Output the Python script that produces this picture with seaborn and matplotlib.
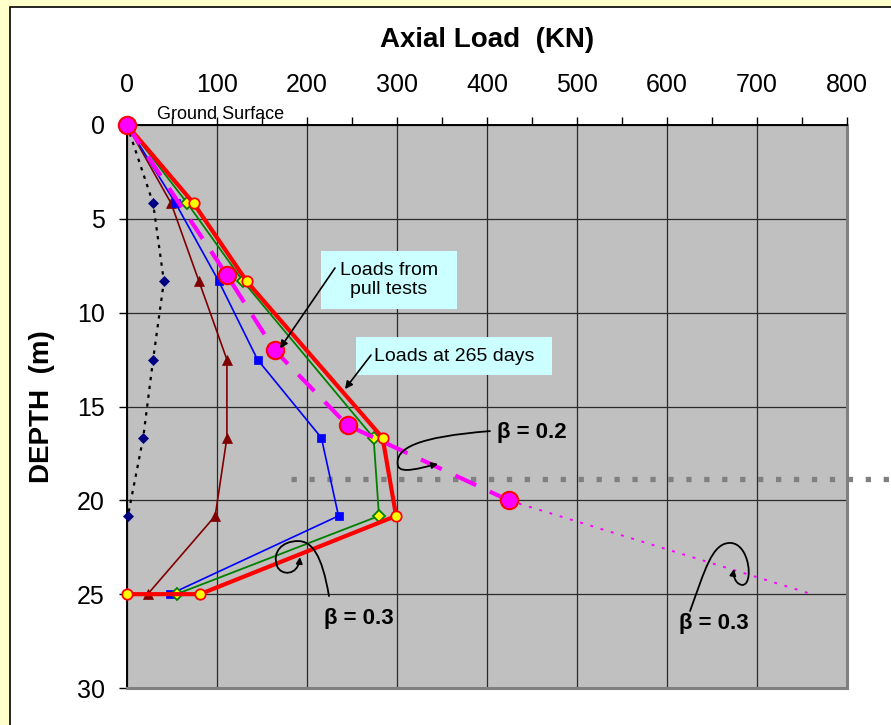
import matplotlib
matplotlib.use("Agg")
import matplotlib.pyplot as plt
import seaborn as sns
from matplotlib.patches import Rectangle, FancyArrowPatch
from matplotlib.path import Path
from matplotlib.ticker import MultipleLocator

sns.set_style("white")
plt.rcParams["font.family"] = ["Liberation Sans", "DejaVu Sans"]
plt.rcParams["text.color"] = "black"
plt.rcParams["axes.labelcolor"] = "black"
plt.rcParams["xtick.color"] = "black"
plt.rcParams["ytick.color"] = "black"

# =========================
# DATA
# =========================

depth = [0, 4.17, 8.33, 12.5, 16.67, 20.83, 25.0]

# dotted black series (diamonds)
black_depth = depth[:6]
black_load = [0, 29, 41, 29, 18, 1]

# maroon series (triangles)
maroon_load = [0, 49, 80, 111, 111, 98, 23]

# blue series (squares)
blue_load = [0, 54, 102, 145, 216, 235, 48]

# green series (diamonds)
green_depth = [0, 4.17, 8.33, 16.67, 20.83, 25.0]
green_load = [0, 67, 129, 274, 280, 55]

# red series - loads at 265 days
red_depth = [0, 4.17, 8.33, 16.67, 20.83, 25.0, 25.0]
red_load = [0, 74, 133, 284, 299, 81, 0]

# magenta - loads from pull tests
pull_depth = [0, 8, 12, 16, 20]
pull_load = [0, 111, 164, 245, 424]

# magenta dotted extension
ext_depth = [20, 25]
ext_load = [424, 761]

# grey layer boundary
layer_depth = [18.86, 18.86]
layer_load = [182, 849]

x_ticks = [0, 100, 200, 300, 400, 500, 600, 700, 800]
y_ticks = [0, 5, 10, 15, 20, 25, 30]

# =========================
# FIGURE
# =========================

fig = plt.figure(figsize=(8.91, 7.25), dpi=100, facecolor="#FFFFCC")
fig.add_artist(Rectangle((10 / 891, -0.1), 1.2, 1.1 - 7 / 725,
                         transform=fig.transFigure, facecolor="white",
                         edgecolor="black", lw=1.2, zorder=-1))

ax = fig.add_axes([127 / 891, 1 - 688 / 725, 720 / 891, 563 / 725])
ax.set_facecolor("#C0C0C0")

common = dict(ax=ax, sort=False, estimator=None, legend=False, clip_on=False)

sns.lineplot(x=black_load, y=black_depth, color="black", lw=1.6,
             linestyle=(0, (1.5, 2.5)), marker="D", ms=5,
             mfc="#000080", mec="#000080", mew=0.5, zorder=3, **common)

sns.lineplot(x=maroon_load, y=depth, color="#800000", lw=1.2,
             marker="^", ms=7.5, mfc="#800000", mec="#800000", mew=0.5,
             zorder=3, **common)

sns.lineplot(x=blue_load, y=depth, color="#0000FF", lw=1.2,
             marker="s", ms=5.5, mfc="#0000FF", mec="#0000FF", mew=0.5,
             zorder=3, **common)

sns.lineplot(x=green_load, y=green_depth, color="#008000", lw=1.3,
             marker="D", ms=6.5, mfc="#FFFF00", mec="#008000", mew=1.3,
             zorder=4, **common)

sns.lineplot(x=red_load, y=red_depth, color="#FF0000", lw=3,
             marker="o", ms=7.5, mfc="#FFFF00", mec="#FF0000", mew=1.3,
             zorder=5, **common)

sns.lineplot(x=ext_load, y=ext_depth, color="#FF00FF", lw=1.4,
             linestyle=(0, (1.5, 4)), zorder=5, **common)

sns.lineplot(x=pull_load, y=pull_depth, color="#FF00FF", lw=3,
             linestyle=(0, (5.5, 3.6)), zorder=6, **common)
sns.lineplot(x=pull_load, y=pull_depth, color="#FF00FF", lw=0,
             marker="o", ms=12.5, mfc="#FF00FF", mec="#FF0000", mew=1.5,
             zorder=7, **common)

layer = ax.plot(layer_load, layer_depth, color="#808080", lw=3.8,
                linestyle=(0, (1, 2.4)), zorder=2, clip_on=False)

# =========================
# AXES STYLE
# =========================

ax.set_xlim(0, 800)
ax.set_ylim(30, 0)
ax.set_xticks(x_ticks)
ax.set_yticks(y_ticks)
ax.xaxis.set_minor_locator(MultipleLocator(50))
ax.xaxis.tick_top()
ax.tick_params(axis="x", which="both", top=True, bottom=False,
               labeltop=True, labelbottom=False, direction="out",
               length=6, width=1, color="black", pad=14, labelsize=18)
ax.tick_params(axis="y", left=True, direction="out", length=6, width=1,
               color="black", pad=10, labelsize=18)

ax.grid(True, which="major", color="#2a2a2a", lw=0.9)
ax.set_axisbelow(True)

for side in ["left", "top"]:
    ax.spines[side].set_color("black")
    ax.spines[side].set_linewidth(1.4)
for side in ["right", "bottom"]:
    ax.spines[side].set_color("#808080")
    ax.spines[side].set_linewidth(2.2)

ax.xaxis.set_label_position("top")
ax.set_xlabel("Axial Load  (KN)", fontsize=20, fontweight="bold")
ax.xaxis.label.set_va("center")
ax.xaxis.set_label_coords(0.5, 1.151)
ax.set_ylabel("DEPTH  (m)", fontsize=20, fontweight="bold")
ax.yaxis.label.set_va("center")
ax.yaxis.set_label_coords(-0.118, 0.5)

ax.text(104.4, -0.32, "Ground Surface", fontsize=13, ha="center",
        va="baseline", clip_on=False)

# =========================
# ANNOTATIONS
# =========================

ax.add_patch(Rectangle((215.6, 6.71), 151.1, 3.09, facecolor="#CCFFFF",
                       edgecolor="none", zorder=8))
ax.text(291.1, 8.25, "Loads from\npull tests", fontsize=14, ha="center",
        va="center", linespacing=1.15, zorder=9)
ax.add_patch(Rectangle((254.4, 11.30), 217.8, 2.02, facecolor="#CCFFFF",
                       edgecolor="none", zorder=8))
ax.text(363.3, 12.31, "Loads at 265 days", fontsize=14, ha="center",
        va="center", zorder=9)

arrow_kw = dict(arrowstyle="-|>", color="black", lw=1.2,
                mutation_scale=11, shrinkA=0, shrinkB=0)
ax.annotate("", xy=(170, 11.9), xytext=(231.1, 7.62),
            arrowprops=arrow_kw, zorder=10)
ax.annotate("", xy=(242.2, 14.07), xytext=(271.1, 12.26),
            arrowprops=arrow_kw, zorder=10)

C4 = Path.CURVE4
curves = [
    [(403.3, 16.31), (323.3, 16.62), (296.7, 17.21), (301.1, 18.17),
     (304.4, 18.60), (325.6, 18.28), (345.6, 18.06)],
    [(224.4, 25.10), (216.7, 22.91), (205.6, 22.17), (190.0, 22.17),
     (172.2, 22.17), (161.1, 22.75), (166.7, 23.50),
     (171.1, 24.03), (190.0, 24.03), (192.2, 23.02)],
    [(625.6, 25.90), (642.2, 23.71), (650.0, 22.27), (670.0, 22.27),
     (692.2, 22.27), (696.7, 24.56), (683.3, 24.51),
     (675.6, 24.45), (673.3, 23.98), (674.4, 23.66)],
]
for verts in curves:
    codes = [Path.MOVETO] + [C4] * (len(verts) - 1)
    ax.add_patch(FancyArrowPatch(path=Path(verts, codes), arrowstyle="-|>",
                                 mutation_scale=9, color="black", lw=1.3,
                                 zorder=10))

ax.text(450, 16.36, "β = 0.2", fontsize=16, fontweight="bold",
        ha="center", va="center", zorder=10)
ax.text(257.8, 26.32, "β = 0.3", fontsize=16, fontweight="bold",
        ha="center", va="center", zorder=10)
ax.text(652.2, 26.54, "β = 0.3", fontsize=16, fontweight="bold",
        ha="center", va="center", zorder=10)

plt.savefig("out.png", dpi=100, facecolor=fig.get_facecolor())
